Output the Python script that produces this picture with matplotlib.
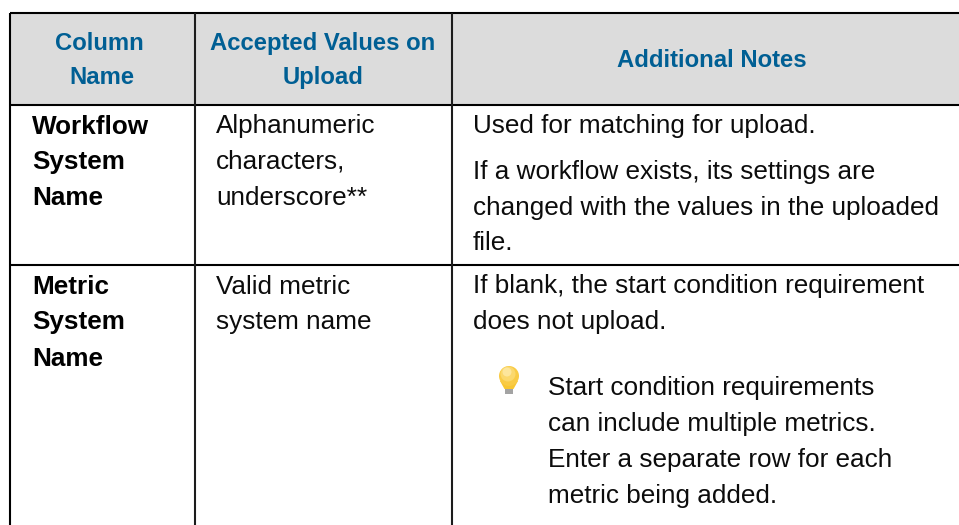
import matplotlib
matplotlib.use('Agg')
import matplotlib.pyplot as plt
from matplotlib.patches import Rectangle, Circle, Polygon

plt.rcParams['font.family'] = ['Liberation Sans', 'DejaVu Sans']

header_col1 = ['Column', 'Name']
header_col2 = ['Accepted Values on', 'Upload']
header_col3 = ['Additional Notes']
row_names = [['Workflow', 'System', 'Name'], ['Metric', 'System', 'Name']]
row_values = [['Alphanumeric', 'characters,', 'underscore**'], ['Valid metric', 'system name']]
notes_row1 = ['Used for matching for upload.',
              'If a workflow exists, its settings are',
              'changed with the values in the uploaded',
              'file.']
notes_row2 = ['If blank, the start condition requirement',
              'does not upload.']
tip_lines = ['Start condition requirements',
             'can include multiple metrics.',
             'Enter a separate row for each',
             'metric being added.']

blue = '#005f94'
ink = '#0c0c0c'
fs = 18.85
fs_head = 17.2

fig = plt.figure(figsize=(9.59, 5.25), dpi=100)
ax = fig.add_axes([0, 0, 1, 1])
ax.set_xlim(0, 959)
ax.set_ylim(525, 0)
ax.axis('off')

# header band
ax.add_patch(Rectangle((10, 13), 949, 92, fc='#dcdcdc', ec='none'))

# grid lines
for y in [13, 105, 265]:
    ax.plot([9.5, 959], [y, y], color='black', lw=1.5, solid_capstyle='butt')
ax.plot([10.2, 10.2], [12.5, 525], color='black', lw=1.5, solid_capstyle='butt')
for x in [194.7, 452.2]:
    ax.plot([x, x], [12.5, 525], color='#1c1c1c', lw=1.5, solid_capstyle='butt')


def head(x, y, t):
    ax.text(x, y, t, color=blue, fontweight='bold', fontsize=fs_head, ha='center', va='baseline')


head(99, 50, header_col1[0])
head(102, 84, header_col1[1])
head(323, 50, header_col2[0])
head(323, 84, header_col2[1])
head(712, 67, header_col3[0])

# first two columns
for names, vals, ys in zip(row_names, row_values, [[133.5, 169, 205], [293.5, 329.5, 365.5]]):
    for t, y in zip(names, ys):
        ax.text(32, y, t, fontweight='bold', fontsize=fs, va='baseline', color='black')
    for t, y in zip(vals, ys):
        ax.text(216, y, t, fontsize=fs, va='baseline', color=ink)

# notes column
for t, y in zip(notes_row1, [133.5, 178.5, 214.5, 250.5]):
    ax.text(473, y, t, fontsize=fs, va='baseline', color=ink)
for t, y in zip(notes_row2, [293.5, 329.5]):
    ax.text(473, y, t, fontsize=fs, va='baseline', color=ink)
for t, y in zip(tip_lines, [395, 431, 467, 503]):
    ax.text(548, y, t, fontsize=fs, va='baseline', color=ink)

# tip bulb icon
ax.add_patch(Polygon([(500, 381), (518, 381), (513.5, 389), (504.5, 389)], fc='#f8c632', ec='none'))
ax.add_patch(Circle((509, 376), 10, fc='#f9cb45', ec='none'))
ax.add_patch(Circle((508, 374), 7.5, fc='#fbd86c', ec='none'))
ax.add_patch(Circle((507, 372), 4.5, fc='#fde69c', ec='none'))
ax.add_patch(Rectangle((505, 389), 8, 4.5, fc='#a3a3a3', ec='none'))

fig.savefig('out.png', dpi=100)
